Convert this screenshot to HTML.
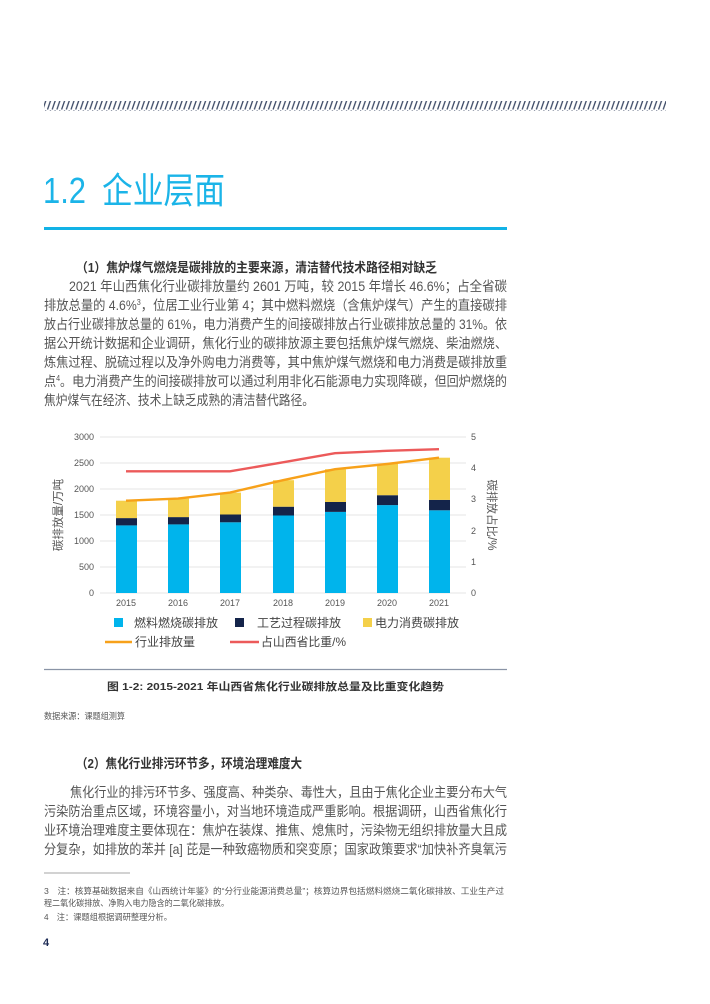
<!DOCTYPE html>
<html><head><meta charset="utf-8"><style>
html,body{margin:0;padding:0;background:#fff;}
body{width:710px;height:1004px;position:relative;overflow:hidden;font-family:"Liberation Sans","Noto Sans CJK SC",sans-serif;}
.a{position:absolute;white-space:nowrap;}
</style></head><body>
<svg class="a" style="left:0;top:0" width="710" height="1004" font-family="Liberation Sans,Noto Sans CJK SC,sans-serif">
  <defs><pattern id="hp" width="4.7" height="10" patternUnits="userSpaceOnUse">
    <line x1="0.5" y1="9.5" x2="3.6" y2="0.5" stroke="#3d4a66" stroke-width="1.3"/></pattern></defs>
  <rect x="44" y="101" width="622" height="10" fill="url(#hp)"/>
  <rect x="44" y="227" width="463" height="3" fill="#12b2e6"/>
  <g font-size="13.6" fill="#555">
    <text x="76" y="272" font-size="13" fill="#333" font-weight="bold" textLength="361" lengthAdjust="spacingAndGlyphs">（1）焦炉煤气燃烧是碳排放的主要来源，清洁替代技术路径相对缺乏</text>
    <text x="69" y="291" textLength="438" lengthAdjust="spacingAndGlyphs">2021 年山西焦化行业碳排放量约 2601 万吨，较 2015 年增长 46.6%；占全省碳</text>
    <text x="44" y="310" textLength="463" lengthAdjust="spacingAndGlyphs">排放总量的 4.6%<tspan font-size="8" dy="-5">3</tspan><tspan dy="5">，位居工业行业第 4；其中燃料燃烧（含焦炉煤气）产生的直接碳排</tspan></text>
    <text x="44" y="329" textLength="463" lengthAdjust="spacingAndGlyphs">放占行业碳排放总量的 61%，电力消费产生的间接碳排放占行业碳排放总量的 31%。依</text>
    <text x="44" y="348" textLength="463" lengthAdjust="spacingAndGlyphs">据公开统计数据和企业调研，焦化行业的碳排放源主要包括焦炉煤气燃烧、柴油燃烧、</text>
    <text x="44" y="367" textLength="463" lengthAdjust="spacingAndGlyphs">炼焦过程、脱硫过程以及净外购电力消费等，其中焦炉煤气燃烧和电力消费是碳排放重</text>
    <text x="44" y="386" textLength="463" lengthAdjust="spacingAndGlyphs">点<tspan font-size="8" dy="-5">4</tspan><tspan dy="5">。电力消费产生的间接碳排放可以通过利用非化石能源电力实现降碳，但回炉燃烧的</tspan></text>
    <text x="44" y="405" textLength="270" lengthAdjust="spacingAndGlyphs">焦炉煤气在经济、技术上缺乏成熟的清洁替代路径。</text>

    <text x="76" y="768" font-size="13" fill="#333" font-weight="bold" textLength="226" lengthAdjust="spacingAndGlyphs">（2）焦化行业排污环节多，环境治理难度大</text>
    <text x="70" y="797" textLength="437" lengthAdjust="spacingAndGlyphs">焦化行业的排污环节多、强度高、种类杂、毒性大，且由于焦化企业主要分布大气</text>
    <text x="44" y="816" textLength="463" lengthAdjust="spacingAndGlyphs">污染防治重点区域，环境容量小，对当地环境造成严重影响。根据调研，山西省焦化行</text>
    <text x="44" y="835" textLength="463" lengthAdjust="spacingAndGlyphs">业环境治理难度主要体现在：焦炉在装煤、推焦、熄焦时，污染物无组织排放量大且成</text>
    <text x="44" y="854" textLength="463" lengthAdjust="spacingAndGlyphs">分复杂，如排放的苯并 [a] 芘是一种致癌物质和突变原；国家政策要求“加快补齐臭氧污</text>
  </g>
  <g font-size="8.6" fill="#555">
    <text x="44" y="719" textLength="81" lengthAdjust="spacingAndGlyphs">数据来源：课题组测算</text>
    <text x="44" y="894" textLength="460" lengthAdjust="spacingAndGlyphs">3　注：核算基础数据来自《山西统计年鉴》的“分行业能源消费总量”；核算边界包括燃料燃烧二氧化碳排放、工业生产过</text>
    <text x="44" y="906" textLength="185" lengthAdjust="spacingAndGlyphs">程二氧化碳排放、净购入电力隐含的二氧化碳排放。</text>
    <text x="44" y="920" textLength="128" lengthAdjust="spacingAndGlyphs">4　注：课题组根据调研整理分析。</text>
  </g>
  <g stroke="#e6e6e6" stroke-width="1">
    <line x1="100" y1="437" x2="466" y2="437"/><line x1="100" y1="463" x2="466" y2="463"/>
    <line x1="100" y1="489" x2="466" y2="489"/><line x1="100" y1="515" x2="466" y2="515"/>
    <line x1="100" y1="541" x2="466" y2="541"/><line x1="100" y1="567" x2="466" y2="567"/>
    <line x1="100" y1="593" x2="466" y2="593"/>
  </g>
  <g font-size="9" fill="#555" text-anchor="end">
    <text x="94" y="440">3000</text><text x="94" y="466">2500</text><text x="94" y="492">2000</text>
    <text x="94" y="518">1500</text><text x="94" y="544">1000</text><text x="94" y="570">500</text><text x="94" y="596">0</text>
  </g>
  <g font-size="9" fill="#555">
    <text x="471" y="440">5</text><text x="471" y="471">4</text><text x="471" y="502">3</text>
    <text x="471" y="534">2</text><text x="471" y="565">1</text><text x="471" y="596">0</text>
  </g>
  <g font-size="9" fill="#555" text-anchor="middle">
    <text x="126" y="606">2015</text><text x="178" y="606">2016</text><text x="230" y="606">2017</text>
    <text x="283" y="606">2018</text><text x="335" y="606">2019</text><text x="387" y="606">2020</text><text x="439" y="606">2021</text>
  </g>
  <text transform="translate(62,515) rotate(-90)" font-size="11.5" fill="#555" text-anchor="middle">碳排放量/万吨</text>
  <text transform="translate(488,515) rotate(90)" font-size="11.5" fill="#555" text-anchor="middle">碳排放占比/%</text>
  <g>
    <rect x="116" y="525.4" width="21" height="67.6" fill="#00b4ec"/><rect x="116" y="518.1" width="21" height="7.3" fill="#14244a"/><rect x="116" y="500.7" width="21" height="17.4" fill="#f4d04a"/>
    <rect x="168" y="524.4" width="21" height="68.6" fill="#00b4ec"/><rect x="168" y="517.1" width="21" height="7.3" fill="#14244a"/><rect x="168" y="498.6" width="21" height="18.5" fill="#f4d04a"/>
    <rect x="220" y="522.3" width="21" height="70.7" fill="#00b4ec"/><rect x="220" y="514.5" width="21" height="7.8" fill="#14244a"/><rect x="220" y="492.6" width="21" height="21.9" fill="#f4d04a"/>
    <rect x="273" y="515.5" width="21" height="77.5" fill="#00b4ec"/><rect x="273" y="506.7" width="21" height="8.8" fill="#14244a"/><rect x="273" y="480.2" width="21" height="26.5" fill="#f4d04a"/>
    <rect x="325" y="511.9" width="21" height="81.1" fill="#00b4ec"/><rect x="325" y="502" width="21" height="9.9" fill="#14244a"/><rect x="325" y="469.2" width="21" height="32.8" fill="#f4d04a"/>
    <rect x="377" y="505.1" width="21" height="87.9" fill="#00b4ec"/><rect x="377" y="495.2" width="21" height="9.9" fill="#14244a"/><rect x="377" y="464" width="21" height="31.2" fill="#f4d04a"/>
    <rect x="429" y="510.3" width="21" height="82.7" fill="#00b4ec"/><rect x="429" y="499.9" width="21" height="10.4" fill="#14244a"/><rect x="429" y="457.7" width="21" height="42.2" fill="#f4d04a"/>
  </g>
  <polyline points="126,500.7 178,498.6 230,492.6 283,480.2 335,469.2 387,464 439,457.7" fill="none" stroke="#f7a11a" stroke-width="2.4"/>
  <polyline points="126,471.3 178,471.3 230,471.3 283,462.3 335,453.2 387,450.8 439,449.2" fill="none" stroke="#ec5a5a" stroke-width="2.4"/>
  <rect x="114" y="618" width="9" height="9" fill="#00b4ec"/>
  <rect x="235" y="618" width="9" height="9" fill="#14244a"/>
  <rect x="363" y="618" width="9" height="9" fill="#f4d04a"/>
  <g font-size="12" fill="#444">
    <text x="134" y="627" textLength="84" lengthAdjust="spacingAndGlyphs">燃料燃烧碳排放</text>
    <text x="257" y="627" textLength="84" lengthAdjust="spacingAndGlyphs">工艺过程碳排放</text>
    <text x="375" y="627" textLength="84" lengthAdjust="spacingAndGlyphs">电力消费碳排放</text>
    <text x="135" y="646" textLength="60" lengthAdjust="spacingAndGlyphs">行业排放量</text>
    <text x="261" y="646" textLength="85" lengthAdjust="spacingAndGlyphs">占山西省比重/%</text>
  </g>
  <line x1="105" y1="642" x2="132" y2="642" stroke="#f7a11a" stroke-width="2.4"/>
  <line x1="230" y1="642" x2="259" y2="642" stroke="#ec5a5a" stroke-width="2.4"/>
  <line x1="44" y1="669.5" x2="507" y2="669.5" stroke="#8a94a6" stroke-width="1.2"/>
  <text x="107" y="690" font-size="10.5" fill="#333" font-weight="bold" textLength="337" lengthAdjust="spacingAndGlyphs">图 1-2: 2015-2021 年山西省焦化行业碳排放总量及比重变化趋势</text>
  <line x1="44" y1="873" x2="130" y2="873" stroke="#888" stroke-width="0.8"/>
  <text x="43" y="946" font-size="11" font-weight="bold" fill="#1d2b55">4</text>
  <text x="43" y="203" font-size="36" fill="#1bb4e8" textLength="43" lengthAdjust="spacingAndGlyphs">1.2</text>
  <text x="102" y="203" font-size="36" fill="#1bb4e8" textLength="123" lengthAdjust="spacingAndGlyphs">企业层面</text>
</svg>
</body></html>
